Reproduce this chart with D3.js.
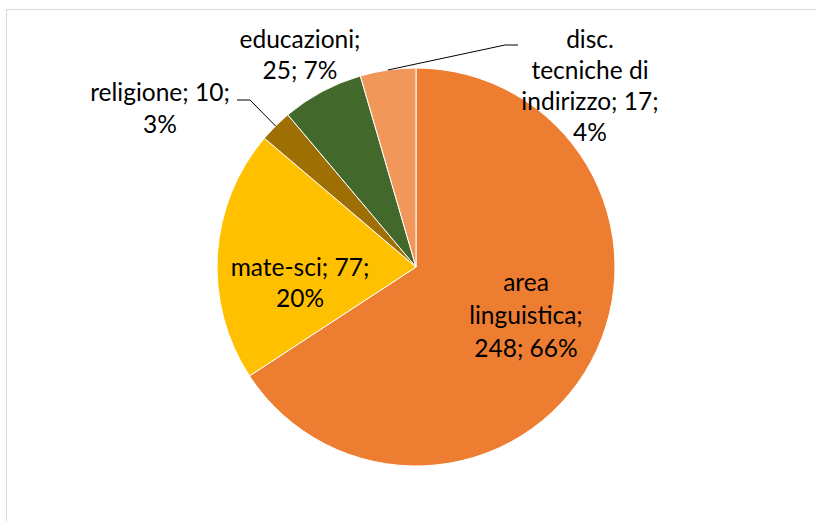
<!DOCTYPE html>
<html>
<head>
<meta charset="utf-8">
<script src="https://cdn.jsdelivr.net/npm/d3@7"></script>
<style>
  body { margin: 0; background: #fff; }
  svg { display: block; }
  text { font-family: Lato, "Open Sans", sans-serif; font-size: 24.5px; fill: #000; }
</style>
</head>
<body>
<svg width="816" height="521"></svg>
<script>
// data
const categories = ['area linguistica', 'mate-sci', 'religione', 'educazioni', 'disc. tecniche di indirizzo'];
const values = [248, 77, 10, 25, 17];
const percents = ['66%', '20%', '3%', '7%', '4%'];
const colors = ['#ED7D31', '#FFC000', '#9E7004', '#43682B', '#F1975A'];

// label layout: lines of text, where the text block sits, and whether it needs a leader
const labelLines = [
	['area', 'linguistica;', '248; 66%'],
	['mate-sci; 77;', '20%'],
	['religione; 10;', '3%'],
	['educazioni;', '25; 7%'],
	['disc.', 'tecniche di', 'indirizzo; 17;', '4%']
];
const labelPos = [[526, 283], [300, 268], [160, 93], [300, 40], [590, 40]];
const lineH = [33, 31, 32, 31, 31];
const leaders = [null, null, { x: 237, y: 100, side: 'left' }, null, { x: 518, y: 45, side: 'right' }];

const svg = d3.select('svg');

// chart frame
svg.append('rect')
	.attr('x', 6.5).attr('y', 9.5)
	.attr('width', 840).attr('height', 540)
	.attr('fill', 'none')
	.attr('stroke', '#d9d9d9')
	.attr('stroke-width', 1);

const cx = 416, cy = 267, r = 199;

const pie = d3.pie().sort(null).value(d => d.value);
const arc = d3.arc().innerRadius(0).outerRadius(r);
const edge = d3.arc().innerRadius(r).outerRadius(r);

const data = categories.map((c, i) => ({ cat: c, value: values[i], pct: percents[i], color: colors[i], i }));
const arcs = pie(data);

const g = svg.append('g').attr('transform', `translate(${cx},${cy})`);

g.selectAll('path')
	.data(arcs)
	.enter()
	.append('path')
	.attr('d', arc)
	.attr('fill', d => d.data.color)
	.attr('stroke', '#fff')
	.attr('stroke-width', 1);

// leader lines from the slice edge to the label
arcs.forEach(d => {
	const L = leaders[d.data.i];
	if (!L) return;
	const p = edge.centroid(d);
	const px = p[0] + cx, py = p[1] + cy;
	const bx = L.side === 'left' ? L.x + 13 : L.x - 13;
	svg.append('polyline')
		.attr('points', `${L.x},${L.y} ${bx},${L.y} ${px},${py}`)
		.attr('fill', 'none')
		.attr('stroke', '#000')
		.attr('stroke-width', 1);
});

// labels
arcs.forEach(d => {
	const i = d.data.i;
	const t = svg.append('text')
		.attr('text-anchor', 'middle');
	labelLines[i].forEach((line, k) => {
		t.append('tspan')
			.attr('x', labelPos[i][0])
			.attr('y', labelPos[i][1] + k * lineH[i] + 8)
			.text(line);
	});
});
</script>
</body>
</html>
